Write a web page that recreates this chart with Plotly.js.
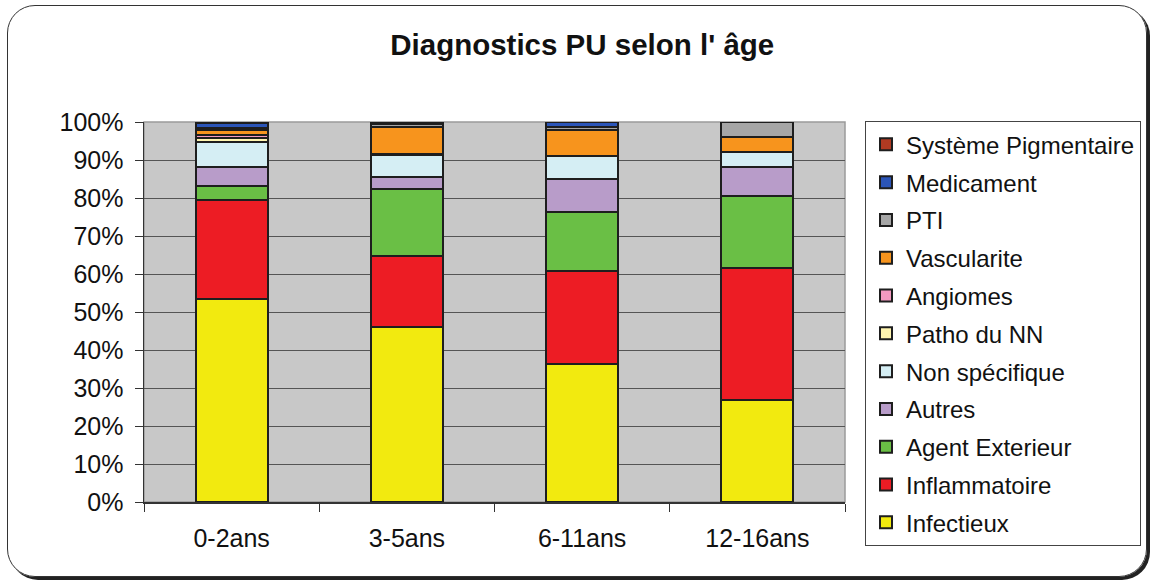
<!DOCTYPE html>
<html>
<head>
<meta charset="utf-8">
<script src="https://cdn.plot.ly/plotly-3.0.1.min.js"></script>
<style>
  html, body { margin: 0; padding: 0; background: #fff; }
  #wrap { position: relative; width: 1153px; height: 582px; }
  #chart { position: absolute; left: 0; top: 0; width: 1153px; height: 582px; }
  #frame { position: absolute; left: 7px; top: 5px; width: 1138px; height: 570px;
           border: 1.5px solid #333; border-radius: 28px;
           box-shadow: 3px 3px 0 #222; pointer-events: none; }
</style>
</head>
<body>
<div id="wrap">
  <div id="chart"></div>
  <div id="frame"></div>
</div>
<script>
const categories = ["0-2ans", "3-5ans", "6-11ans", "12-16ans"];

const seriesNames = ["Infectieux", "Inflammatoire", "Agent Exterieur", "Autres",
  "Non spécifique", "Patho du NN", "Angiomes", "Vascularite", "PTI",
  "Medicament", "Système Pigmentaire"];

const infectieux     = [53.4, 46.1, 36.3, 26.8];
const inflammatoire  = [26.1, 18.6, 24.5, 34.8];
const agentExterieur = [3.7, 17.7, 15.5, 18.9];
const autres         = [5.0, 3.1, 8.7, 7.7];
const nonSpecifique  = [6.5, 5.7, 6.1, 3.8];
const pathoNN        = [1.0, 0.0, 0.0, 0.0];
const angiomes       = [1.0, 0.5, 0.0, 0.0];
const vascularite    = [1.3, 7.1, 6.8, 4.1];
const pti            = [0.5, 0.6, 0.8, 3.9];
const medicament     = [1.2, 0.0, 1.3, 0.0];
const systemePigm    = [0.3, 0.6, 0.0, 0.0];

const seriesValues = [infectieux, inflammatoire, agentExterieur, autres, nonSpecifique,
  pathoNN, angiomes, vascularite, pti, medicament, systemePigm];

const colors = ["#f2ea0f", "#ed1c24", "#6abf45", "#b89cc9", "#d5eef4",
  "#fff5b0", "#f49ac1", "#f7941d", "#a6a6a6", "#2b55b8", "#b03a22"];

const traces = seriesNames.map((name, i) => ({
  type: "bar",
  name: name,
  x: categories,
  y: seriesValues[i].map(v => v / 100),
  width: 0.41,
  legendgroup: "g" + i,
  legendrank: 1000 - i,
  marker: { color: colors[i], line: { color: "#1e1e1e", width: 2 } },
  hoverinfo: "x+y+name"
}));

const font = "Liberation Sans, Arial, sans-serif";

const layout = {
  width: 1153, height: 582,
  margin: { l: 144, r: 308, t: 122, b: 80, pad: 0, autoexpand: false },
  barmode: "stack",
  paper_bgcolor: "#ffffff",
  plot_bgcolor: "#c8c8c8",
  font: { family: font, size: 25, color: "#111" },
  title: { text: "<b>Diagnostics PU selon l' âge</b>", font: { family: font, size: 29.5, color: "#111" },
           x: 0.505, xanchor: "center", y: 1 - 45 / 582, yanchor: "middle", xref: "container", yref: "container" },
  xaxis: {
    type: "category",
    ticks: "outside", tickson: "boundaries", ticklen: 8, tickcolor: "#333", tickwidth: 1,
    showline: true, linecolor: "#333", linewidth: 1.5,
    showgrid: false,
    ticklabelstandoff: 13,
    tickfont: { family: font, size: 25, color: "#111" },
    fixedrange: true
  },
  yaxis: {
    range: [0, 1], dtick: 0.1, tickformat: ".0%",
    ticks: "outside", ticklen: 8, tickcolor: "#333", tickwidth: 1,
    showline: true, linecolor: "#333", linewidth: 1.5,
    showgrid: true, gridcolor: "#555", gridwidth: 1,
    zeroline: false,
    ticklabelstandoff: 6,
    tickfont: { family: font, size: 25, color: "#111" },
    fixedrange: true
  },
  shapes: [{
    type: "rect", xref: "paper", yref: "paper", x0: 0, x1: 1, y0: 0, y1: 1,
    line: { color: "#9a9a9a", width: 1.5 }, layer: "below"
  }],
  legend: {
    x: (865 - 144) / 701, xanchor: "left", y: 1.002, yanchor: "top",
    traceorder: "grouped", tracegroupgap: 3.6,
    maxheight: 570,
    bordercolor: "#444", borderwidth: 1, bgcolor: "#ffffff",
    font: { family: font, size: 24, color: "#111" },
    itemclick: false, itemdoubleclick: false
  },
  bargap: 0.59,
  showlegend: true
};

Plotly.newPlot("chart", traces, layout, { displayModeBar: false, staticPlot: true });
</script>
</body>
</html>
